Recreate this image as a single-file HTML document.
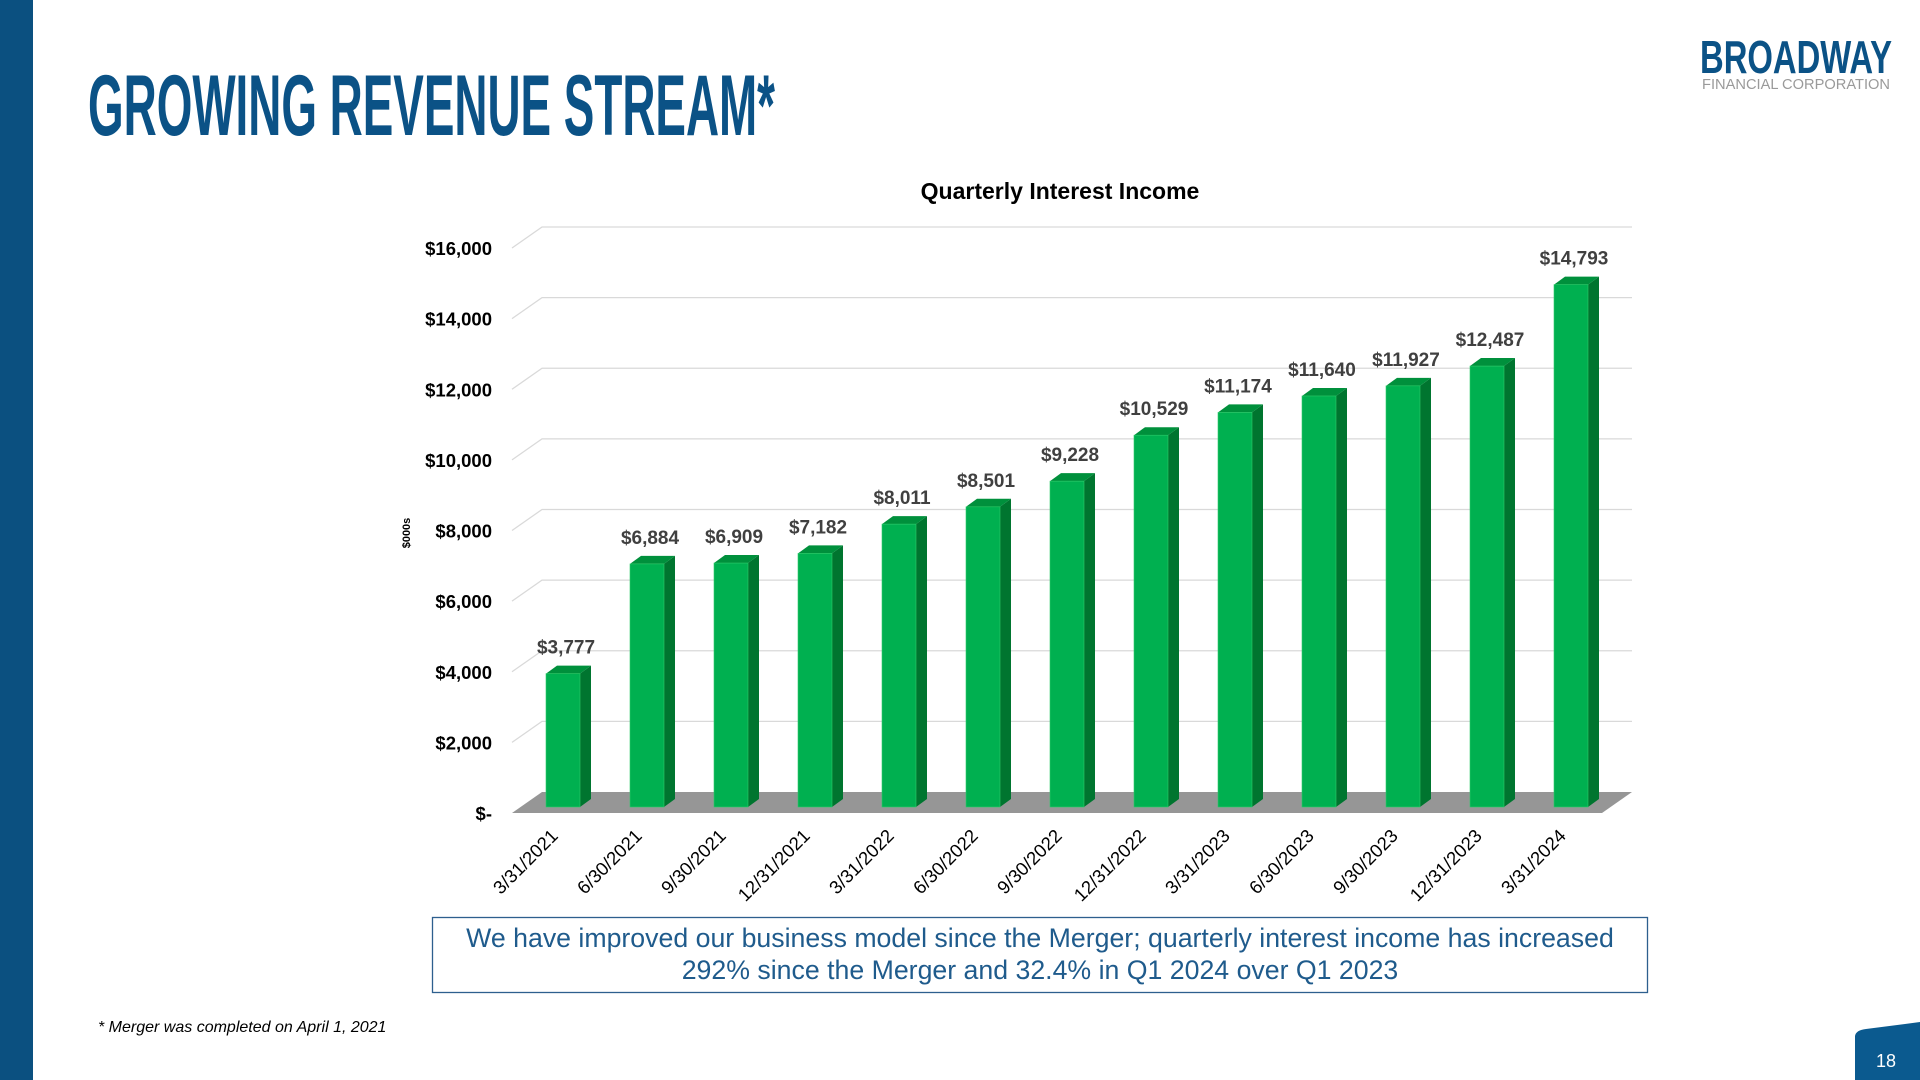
<!DOCTYPE html>
<html><head><meta charset="utf-8"><style>
html,body{margin:0;padding:0;background:#fff;}
svg{display:block;font-family:"Liberation Sans",Arial,sans-serif;}
</style></head><body>
<svg id="slide" width="1920" height="1080" viewBox="0 0 1920 1080">
<rect x="0" y="0" width="33" height="1080" fill="#0b5080"/>
<text x="88" y="135" font-size="86" font-weight="bold" fill="#0b5286" textLength="687" lengthAdjust="spacingAndGlyphs">GROWING REVENUE STREAM*</text>
<g>
<text x="1700" y="73" font-size="46" font-weight="bold" fill="#0b5286" textLength="192" lengthAdjust="spacingAndGlyphs">BROADWAY</text>
<text x="1702" y="89" font-size="14.5" fill="#9a9a9a" textLength="188" lengthAdjust="spacingAndGlyphs">FINANCIAL CORPORATION</text>
</g>
<text x="1060" y="199" font-size="23" font-weight="bold" fill="#000" text-anchor="middle">Quarterly Interest Income</text>
<text transform="translate(410,533) rotate(-90)" font-size="11" font-weight="bold" fill="#000" text-anchor="middle">$000s</text>
<g id="chart"></g>
<rect x="432.5" y="917.5" width="1215" height="75" fill="#fff" stroke="#2d5f8e" stroke-width="1.3"/>
<text x="1040" y="947" font-size="26.7" fill="#1f5b8c" text-anchor="middle">We have improved our business model since the Merger; quarterly interest income has increased</text>
<text x="1040" y="979" font-size="26.7" fill="#1f5b8c" text-anchor="middle">292% since the Merger and 32.4% in Q1 2024 over Q1 2023</text>
<text x="98" y="1032" font-size="16" font-style="italic" fill="#000">* Merger was completed on April 1, 2021</text>
<path d="M1855,1036 Q1856,1030 1866,1029 L1920,1022 L1920,1080 L1855,1080 Z" fill="#0b5a8f"/>
<text x="1886" y="1067" font-size="18" fill="#fff" text-anchor="middle">18</text>
</svg>
<script>
const categories = ["3/31/2021","6/30/2021","9/30/2021","12/31/2021","3/31/2022","6/30/2022","9/30/2022","12/31/2022","3/31/2023","6/30/2023","9/30/2023","12/31/2023","3/31/2024"];
const values = [3777,6884,6909,7182,8011,8501,9228,10529,11174,11640,11927,12487,14793];
const valueLabels = ["$3,777","$6,884","$6,909","$7,182","$8,011","$8,501","$9,228","$10,529","$11,174","$11,640","$11,927","$12,487","$14,793"];
const yTicks = [0,2000,4000,6000,8000,10000,12000,14000,16000];
const yTickLabels = ["$-","$2,000","$4,000","$6,000","$8,000","$10,000","$12,000","$14,000","$16,000"];

const NS = "http://www.w3.org/2000/svg";
const g = document.getElementById("chart");
const backY0 = 792, frontY0 = 813, pxPer = (792 - 227) / 16000;
const backX0 = 542, backX1 = 1632, depthX = 30;
const barBase = 807, barLeft0 = 546, step = 84, barW = 34, sideW = 11, topH = 8;
function yBack(v){ return backY0 - v * pxPer; }
function yFront(v){ return frontY0 - v * pxPer; }
function yBar(v){ return barBase - v * pxPer; }
function xBar(i){ return barLeft0 + i * step; }
function mk(tag, attrs){ const e = document.createElementNS(NS, tag); for (const k in attrs) e.setAttribute(k, attrs[k]); g.appendChild(e); return e; }

let floor = mk("polygon", {points: `${backX0},${backY0} ${backX1},${backY0} ${backX1-depthX},${frontY0} ${backX0-depthX},${frontY0}`, fill: "#969696"});



yTicks.forEach((v, i) => {
  if (v > 0) {
    const l = mk("polyline", {points: `${backX0-depthX},${yFront(v)} ${backX0},${yBack(v)} ${backX1},${yBack(v)}`, fill: "none", stroke: "#d9d9d9", "stroke-width": 1.3});
    
    
  }
  const t = mk("text", {x: 492, y: yFront(v) + 7, "font-size": 18.5, "font-weight": "bold", fill: "#000", "text-anchor": "end"});
  t.textContent = yTickLabels[i];
  
  
});

values.forEach((v, i) => {
  const x = xBar(i), top = yBar(v);
  const grp = mk("g", {});
  
  
  const side = document.createElementNS(NS, "polygon");
  side.setAttribute("points", `${x+barW},${top} ${x+barW+sideW},${top-topH} ${x+barW+sideW},${barBase-topH} ${x+barW},${barBase}`);
  side.setAttribute("fill", "#00752f");
  grp.appendChild(side);
  const topf = document.createElementNS(NS, "polygon");
  topf.setAttribute("points", `${x},${top} ${x+sideW},${top-topH} ${x+barW+sideW},${top-topH} ${x+barW},${top}`);
  topf.setAttribute("fill", "#00903c");
  grp.appendChild(topf);
  const front = document.createElementNS(NS, "rect");
  front.setAttribute("x", x); front.setAttribute("y", top);
  front.setAttribute("width", barW); front.setAttribute("height", barBase - top);
  front.setAttribute("fill", "#00b050"); front.setAttribute("stroke", "#2ecc6a"); front.setAttribute("stroke-width", 0.6);
  grp.appendChild(front);

  const lbl = mk("text", {x: x + barW/2 + 3, y: top - 20, "font-size": 19, "font-weight": "bold", fill: "#404040", "text-anchor": "middle"});
  lbl.textContent = valueLabels[i];
  
  

  const cx = x + barW/2 - 4;
  const xl = mk("text", {transform: `translate(${cx},${frontY0 + 24}) rotate(-45)`, "font-size": 18.5, fill: "#000", "text-anchor": "end"});
  xl.textContent = categories[i];
  
  
});
</script>
</body></html>
